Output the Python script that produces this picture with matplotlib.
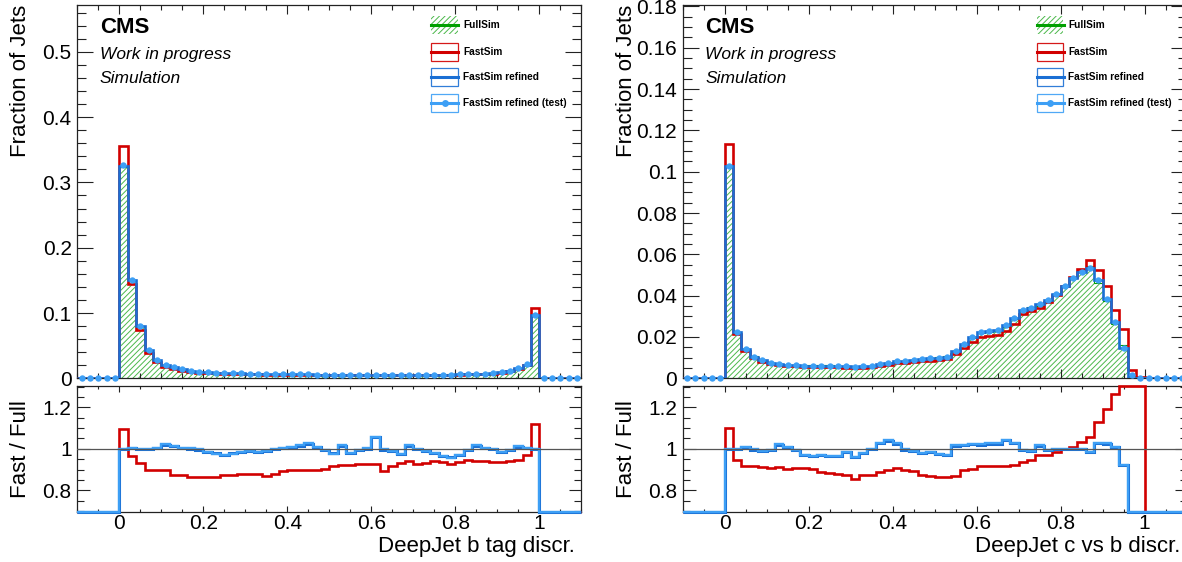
import numpy as np
import matplotlib
matplotlib.use("Agg")
import matplotlib.pyplot as plt
from matplotlib.patches import Rectangle
from matplotlib.lines import Line2D
from matplotlib.ticker import MultipleLocator, FuncFormatter

plt.rcParams['font.family'] = ['Liberation Sans', 'DejaVu Sans']
plt.rcParams['hatch.linewidth'] = 0.7

# ---------------- data (bins of width 0.02 on [0, 1]; empty outside) ----------------
x_lo, x_hi, n_bins = -0.1, 1.1, 60
n_under, n_over = 5, 5

# b tag discriminant
full_b = [0.324, 0.150, 0.080, 0.043, 0.028, 0.0195, 0.0166, 0.0136, 0.0117, 0.0096,
          0.0091, 0.0086, 0.0082, 0.0078, 0.0075, 0.0072, 0.0069, 0.0066, 0.0064, 0.0062,
          0.0060, 0.0059, 0.0058, 0.0057, 0.0056, 0.0055, 0.0055, 0.0054, 0.0054, 0.0053,
          0.0053, 0.0053, 0.0053, 0.0053, 0.0054, 0.0054, 0.0055, 0.0056, 0.0057, 0.0059,
          0.0061, 0.0064, 0.0067, 0.0071, 0.0078, 0.0091, 0.0117, 0.0150, 0.0210, 0.0965]
fast_b = [0.356, 0.145, 0.0747, 0.0390, 0.0252, 0.0175, 0.0145, 0.0119, 0.0101, 0.0083,
          0.0079, 0.0075, 0.0071, 0.0068, 0.0066, 0.0063, 0.0061, 0.0058, 0.0056, 0.0055,
          0.0054, 0.0053, 0.0052, 0.0051, 0.0050, 0.0050, 0.0051, 0.0050, 0.0050, 0.0049,
          0.0049, 0.0048, 0.0048, 0.0049, 0.0051, 0.0050, 0.0051, 0.0053, 0.0054, 0.0055,
          0.0057, 0.0060, 0.0063, 0.0067, 0.0073, 0.0085, 0.0110, 0.0142, 0.0203, 0.108]
refined_b = [0.325, 0.151, 0.0798, 0.043, 0.0281, 0.0199, 0.0168, 0.0137, 0.0117, 0.0096,
             0.0090, 0.0084, 0.0080, 0.0077, 0.0074, 0.0071, 0.0068, 0.0065, 0.0064, 0.0062,
             0.0061, 0.0060, 0.0059, 0.0058, 0.0056, 0.0054, 0.0056, 0.0053, 0.0054, 0.0053,
             0.0056, 0.0053, 0.0052, 0.0052, 0.0055, 0.0054, 0.0054, 0.0055, 0.0055, 0.0057,
             0.0059, 0.0064, 0.0068, 0.0071, 0.0078, 0.0090, 0.0116, 0.0152, 0.0211, 0.0965]
test_b = [0.326, 0.150, 0.0797, 0.0432, 0.0282, 0.0200, 0.0167, 0.0137, 0.0117, 0.0096,
          0.0090, 0.0084, 0.0080, 0.0077, 0.0074, 0.0071, 0.0068, 0.0066, 0.0064, 0.0062,
          0.0061, 0.0060, 0.0059, 0.0058, 0.0056, 0.0054, 0.0056, 0.0053, 0.0054, 0.0053,
          0.0056, 0.0053, 0.0052, 0.0052, 0.0055, 0.0054, 0.0054, 0.0055, 0.0055, 0.0057,
          0.0059, 0.0064, 0.0068, 0.0071, 0.0078, 0.0090, 0.0117, 0.0152, 0.0212, 0.0964]
ratio_fast_b = [1.095, 0.966, 0.934, 0.900, 0.900, 0.900, 0.876, 0.873, 0.865, 0.865,
                0.865, 0.865, 0.876, 0.876, 0.877, 0.877, 0.878, 0.870, 0.880, 0.895,
                0.897, 0.900, 0.897, 0.900, 0.905, 0.915, 0.921, 0.921, 0.929, 0.929,
                0.926, 0.895, 0.915, 0.930, 0.942, 0.926, 0.932, 0.942, 0.939, 0.929,
                0.937, 0.945, 0.942, 0.940, 0.939, 0.937, 0.940, 0.945, 0.968, 1.121]
ratio_refined_b = [1.000, 1.003, 0.998, 1.000, 1.003, 1.020, 1.012, 1.005, 1.001, 0.996,
                   0.986, 0.978, 0.972, 0.978, 0.986, 0.990, 0.986, 0.991, 0.997, 1.002,
                   1.008, 1.016, 1.024, 1.008, 0.993, 0.978, 1.016, 0.981, 0.994, 1.001,
                   1.055, 0.996, 0.990, 0.975, 1.016, 0.997, 0.991, 0.981, 0.966, 0.960,
                   0.971, 0.993, 1.016, 1.002, 0.997, 0.986, 0.994, 1.011, 1.003, 1.000]
ratio_test_b = [1.000, 1.005, 0.997, 1.000, 1.003, 1.023, 1.013, 1.006, 1.002, 0.997,
                0.985, 0.977, 0.970, 0.977, 0.985, 0.990, 0.985, 0.990, 0.997, 1.002,
                1.010, 1.018, 1.026, 1.010, 0.994, 0.977, 1.018, 0.980, 0.994, 1.002,
                1.058, 0.997, 0.990, 0.974, 1.018, 0.997, 0.990, 0.980, 0.965, 0.958,
                0.970, 0.994, 1.018, 1.002, 0.997, 0.985, 0.994, 1.013, 1.003, 1.000]

# c vs b discriminant
full_c = [0.1029, 0.0225, 0.0143, 0.0106, 0.0089, 0.0076, 0.0068, 0.0065, 0.0064, 0.0063,
          0.0063, 0.0062, 0.0062, 0.0061, 0.0059, 0.0058, 0.0059, 0.0061, 0.0066, 0.0073,
          0.0082, 0.0085, 0.0088, 0.0094, 0.0098, 0.0101, 0.0108, 0.0130, 0.0162, 0.0197,
          0.0218, 0.0223, 0.0228, 0.0247, 0.0286, 0.0333, 0.0345, 0.0352, 0.0381, 0.0409,
          0.0448, 0.0484, 0.0513, 0.0542, 0.0463, 0.0374, 0.0265, 0.0161, 0.0012, 0.0002]
fast_c = [0.1132, 0.0213, 0.0132, 0.0097, 0.0081, 0.0069, 0.0062, 0.0059, 0.0058, 0.0057,
          0.0057, 0.0055, 0.0055, 0.0054, 0.0052, 0.0050, 0.0052, 0.0053, 0.0059, 0.0066,
          0.0074, 0.0076, 0.0078, 0.0082, 0.0085, 0.0087, 0.0094, 0.0118, 0.0145, 0.0178,
          0.0200, 0.0204, 0.0209, 0.0227, 0.0263, 0.0312, 0.0327, 0.0341, 0.0369, 0.0403,
          0.0448, 0.0489, 0.0527, 0.0573, 0.0524, 0.0447, 0.0331, 0.0237, 0.0040, 0.0004]
refined_c = [0.1027, 0.0226, 0.0141, 0.0105, 0.0088, 0.0076, 0.0069, 0.0066, 0.0064, 0.0061,
             0.0061, 0.0060, 0.0060, 0.0059, 0.0058, 0.0056, 0.0058, 0.0061, 0.0068, 0.0076,
             0.0084, 0.0085, 0.0087, 0.0092, 0.0097, 0.0098, 0.0105, 0.0132, 0.0165, 0.0202,
             0.0223, 0.0229, 0.0234, 0.0258, 0.0294, 0.0331, 0.0342, 0.0358, 0.0379, 0.0408,
             0.0448, 0.0484, 0.0516, 0.0535, 0.0476, 0.0382, 0.0271, 0.0148, 0.0000, 0.0000]
test_c = [0.1027, 0.0226, 0.0141, 0.0105, 0.0089, 0.0076, 0.0069, 0.0066, 0.0064, 0.0061,
          0.0061, 0.0060, 0.0060, 0.0059, 0.0058, 0.0056, 0.0058, 0.0061, 0.0068, 0.0076,
          0.0084, 0.0085, 0.0087, 0.0092, 0.0097, 0.0098, 0.0105, 0.0132, 0.0165, 0.0202,
          0.0223, 0.0229, 0.0234, 0.0258, 0.0294, 0.0331, 0.0342, 0.0358, 0.0379, 0.0408,
          0.0448, 0.0484, 0.0516, 0.0535, 0.0476, 0.0382, 0.0271, 0.0148, 0.0015, 0.0000]
ratio_fast_c = [1.100, 0.945, 0.916, 0.916, 0.913, 0.910, 0.913, 0.905, 0.910, 0.910,
                0.905, 0.889, 0.884, 0.881, 0.876, 0.856, 0.873, 0.876, 0.889, 0.900,
                0.908, 0.897, 0.892, 0.873, 0.869, 0.865, 0.865, 0.869, 0.897, 0.905,
                0.916, 0.916, 0.916, 0.919, 0.921, 0.937, 0.948, 0.969, 0.969, 0.985,
                1.000, 1.010, 1.034, 1.058, 1.131, 1.190, 1.265, 1.470, 3.300, 2.000]
ratio_refined_c = [1.000, 1.000, 1.008, 0.996, 0.990, 0.994, 1.018, 1.008, 0.993, 0.970,
                   0.966, 0.968, 0.966, 0.966, 0.984, 0.962, 0.980, 1.000, 1.027, 1.040,
                   1.024, 0.996, 0.990, 0.981, 0.984, 0.975, 0.970, 1.016, 1.018, 1.021,
                   1.020, 1.024, 1.024, 1.042, 1.027, 0.994, 0.990, 1.016, 0.993, 0.997,
                   1.000, 1.000, 1.000, 0.986, 1.027, 1.024, 1.008, 0.921, 0.000, 0.000]
ratio_test_c = [1.000, 1.000, 1.010, 0.997, 0.990, 0.994, 1.021, 1.010, 0.994, 0.969,
                0.965, 0.968, 0.965, 0.965, 0.985, 0.961, 0.980, 1.000, 1.029, 1.042,
                1.026, 0.997, 0.990, 0.980, 0.985, 0.974, 0.969, 1.018, 1.019, 1.023,
                1.021, 1.026, 1.026, 1.045, 1.029, 0.994, 0.990, 1.018, 0.994, 0.997,
                1.000, 1.000, 1.000, 0.985, 1.029, 1.026, 1.010, 0.921, 0.000, 0.000]

legend_labels = ["FullSim", "FastSim", "FastSim refined", "FastSim refined (test)"]
xlabels = ["DeepJet b tag discr.", "DeepJet c vs b discr."]

# ---------------- style ----------------
W, H, DPI = 1182, 562, 100
RED = '#d10000'
DBLUE = '#1a6fd4'
LBLUE = '#3d9ff5'
HGREEN = '#4cb84c'
GREEN = '#00a000'

edges = np.linspace(x_lo, x_hi, n_bins + 1)
centers = 0.5 * (edges[:-1] + edges[1:])


def full_range(vals):
    return np.concatenate([np.zeros(n_under), np.asarray(vals, float), np.zeros(n_over)])


fig = plt.figure(figsize=(W / DPI, H / DPI), dpi=DPI)


def px_axes(x0, y0, x1, y1):
    return fig.add_axes([x0 / W, 1 - y1 / H, (x1 - x0) / W, (y1 - y0) / H])


def fx(x):
    return x / W


def fy(y):
    return 1 - y / H


fmt = FuncFormatter(lambda v, p: '%g' % round(v, 6))
TICK_FS = 15
TITLE_FS = 16


def style_axes(ax, ymaj, ymin, xlen, ylen):
    ax.set_xlim(x_lo, x_hi)
    ax.xaxis.set_major_locator(MultipleLocator(0.2))
    ax.xaxis.set_minor_locator(MultipleLocator(0.05))
    ax.yaxis.set_major_locator(MultipleLocator(ymaj))
    ax.yaxis.set_minor_locator(MultipleLocator(ymin))
    ax.tick_params(which='both', direction='in', top=True, right=True, width=0.8,
                   colors='#222222', labelcolor='black', labelsize=TICK_FS)
    ax.tick_params(axis='x', which='major', length=xlen[0], pad=2)
    ax.tick_params(axis='x', which='minor', length=xlen[1])
    ax.tick_params(axis='y', which='major', length=ylen[0], pad=4)
    ax.tick_params(axis='y', which='minor', length=ylen[1])
    ax.yaxis.set_major_formatter(fmt)
    ax.xaxis.set_major_formatter(fmt)
    for s in ax.spines.values():
        s.set_linewidth(0.9)
        s.set_color('#222222')


panels = [
    dict(x0=77.3, full=full_b, fast=fast_b, ref=refined_b, test=test_b,
         rf=ratio_fast_b, rr=ratio_refined_b, rt=ratio_test_b,
         ymax=0.5717, ymaj=0.1, ymin=0.02, xlabel=xlabels[0]),
    dict(x0=682.5, full=full_c, fast=fast_c, ref=refined_c, test=test_c,
         rf=ratio_fast_c, rr=ratio_refined_c, rt=ratio_test_c,
         ymax=0.1807, ymaj=0.02, ymin=0.005, xlabel=xlabels[1]),
]

RLO, RHI = 0.697, 1.303
for P in panels:
    x0 = P['x0']
    x1 = x0 + 504
    ax = px_axes(x0, 5, x1, 378.3)
    rax = px_axes(x0, 386, x1, 511.7)

    full = full_range(P['full'])
    fast = full_range(P['fast'])
    ref = full_range(P['ref'])
    test = full_range(P['test'])

    ax.stairs(full, edges, fill=True, facecolor='none', edgecolor=HGREEN,
              hatch='//////', linewidth=0, zorder=1)
    ax.stairs(full, edges, color=GREEN, lw=0.8, zorder=2)
    ax.stairs(fast, edges, color=RED, lw=1.9, zorder=3)
    ax.stairs(ref, edges, color=DBLUE, lw=1.9, zorder=4)
    ax.plot(centers, test, 'o', color=LBLUE, ms=4.6, mew=0, zorder=5, clip_on=False)
    ax.set_ylim(0, P['ymax'])
    style_axes(ax, P['ymaj'], P['ymin'], (6.5, 3.3), (11.5, 6.2))
    ax.tick_params(axis='x', labelbottom=False)

    rf = np.clip(full_range(P['rf']), RLO, RHI)
    rr = np.clip(full_range(P['rr']), RLO, RHI)
    rt = np.clip(full_range(P['rt']), RLO, RHI)
    rax.stairs(rf, edges, baseline=None, color=RED, lw=1.9, zorder=3, clip_on=False)
    rax.stairs(rr, edges, baseline=None, color=DBLUE, lw=2.2, zorder=4, clip_on=False)
    rax.stairs(rt, edges, baseline=None, color=LBLUE, lw=1.7, zorder=5, clip_on=False)
    rax.axhline(1.0, color='#555555', lw=0.9, zorder=6)
    rax.set_ylim(RLO, RHI)
    style_axes(rax, 0.2, 0.05, (4.3, 2.2), (9.0, 5.0))

    # axis titles
    fig.text(fx(x1 - 6), fy(552), P['xlabel'], ha='right', va='baseline', fontsize=TITLE_FS)
    fig.text(fx(x0 - 56.5), fy(5), 'Fraction of Jets', rotation=90, ha='center', va='top',
             fontsize=TITLE_FS)
    fig.text(fx(x0 - 56.5), fy(449), 'Fast / Full', rotation=90, ha='center', va='center',
             fontsize=TITLE_FS)

    # CMS labels
    fig.text(fx(x0 + 22.7), fy(33.3), 'CMS', fontsize=16, fontweight='bold',
             ha='left', va='baseline')
    fig.text(fx(x0 + 22.7), fy(59.3), 'Work in progress', fontsize=12.5, fontstyle='italic',
             ha='left', va='baseline')
    fig.text(fx(x0 + 22.7), fy(83.3), 'Simulation', fontsize=12.5, fontstyle='italic',
             ha='left', va='baseline')

    # legend
    bx0, bx1 = x0 + 354, x0 + 381
    ys = [25, 51.7, 77.3, 103.3]
    bh = 18
    for i, (lab, yc) in enumerate(zip(legend_labels, ys)):
        rect_kw = dict(transform=fig.transFigure)
        if i == 0:
            fig.add_artist(Rectangle((fx(bx0), fy(yc + bh / 2)), fx(bx1) - fx(bx0),
                                     fy(yc - bh / 2) - fy(yc + bh / 2), facecolor='none',
                                     edgecolor=HGREEN, hatch='//////', lw=0, **rect_kw))
            col = GREEN
        else:
            col = [RED, DBLUE, LBLUE][i - 1]
            fig.add_artist(Rectangle((fx(bx0), fy(yc + bh / 2)), fx(bx1) - fx(bx0),
                                     fy(yc - bh / 2) - fy(yc + bh / 2), facecolor='none',
                                     edgecolor=col, lw=0.9, alpha=0.9, **rect_kw))
        fig.add_artist(Line2D([fx(bx0), fx(bx1)], [fy(yc), fy(yc)], color=col, lw=2.2,
                              transform=fig.transFigure))
        if i == 3:
            fig.add_artist(Line2D([fx((bx0 + bx1) / 2)], [fy(yc)], marker='o', ms=5,
                                  mew=0, color=LBLUE, transform=fig.transFigure))
        fig.text(fx(x0 + 386), fy(yc), lab, fontsize=7.3, fontweight='bold',
                 ha='left', va='center')

fig.savefig('out.png', dpi=DPI)
